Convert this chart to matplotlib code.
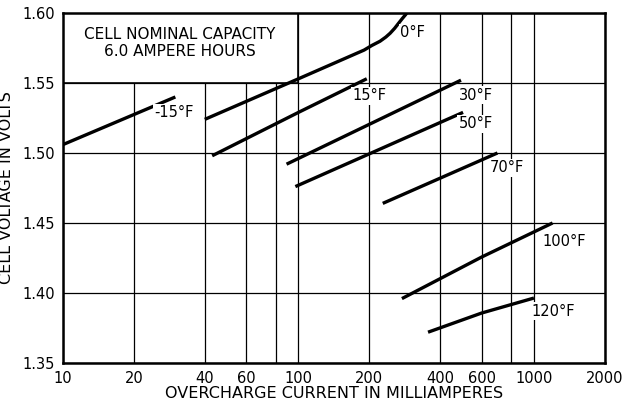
import matplotlib
matplotlib.use("Agg")
import matplotlib.pyplot as plt
from matplotlib.patches import Rectangle

# overcharge current (mA) and cell voltage (V) per temperature curve
curveNames = ["-15\u00b0F", "0\u00b0F", "15\u00b0F", "30\u00b0F", "50\u00b0F", "70\u00b0F", "100\u00b0F", "120\u00b0F"]
currents = [
    [10, 30],
    [40, 100, 190, 205, 222, 235, 245, 256, 266, 276, 285, 297],
    [43, 100, 195],
    [89, 490],
    [97, 500],
    [228, 700],
    [275, 600, 1200],
    [355, 600, 1000],
]
voltages = [
    [1.506, 1.540],
    [1.524, 1.553, 1.5735, 1.5768, 1.5798, 1.5828, 1.5855, 1.589, 1.5926, 1.596, 1.5988, 1.603],
    [1.498, 1.529, 1.553],
    [1.492, 1.552],
    [1.476, 1.529],
    [1.464, 1.500],
    [1.396, 1.4257, 1.450],
    [1.372, 1.3857, 1.3964],
]
labelX = [29.6, 306, 201, 566, 566, 765, 1347, 1205]
labelY = [1.5286, 1.5857, 1.5407, 1.5414, 1.5207, 1.4893, 1.4371, 1.3871]

xTicks = [10, 20, 40, 60, 80, 100, 200, 400, 600, 800, 1000, 2000]
xTickLabels = ["10", "20", "40", "60", "", "100", "200", "400", "600", "", "1000", "2000"]
yTicks = [1.35, 1.40, 1.45, 1.50, 1.55, 1.60]

fig = plt.figure(figsize=(6.32, 4.05), dpi=100)
ax = fig.add_axes([0.0997, 0.1037, 0.8573, 0.8643])
ax.set_xscale("log")
ax.set_xlim(10, 2000)
ax.set_ylim(1.35, 1.60)
ax.set_axisbelow(True)

ax.set_xticks(xTicks)
ax.set_xticklabels(xTickLabels)
ax.xaxis.set_minor_locator(matplotlib.ticker.NullLocator())
ax.set_yticks(yTicks)
ax.set_yticklabels(["%.2f" % v for v in yTicks])
ax.tick_params(length=0, labelsize=10.5, pad=6)
ax.grid(True, color="black", linewidth=0.9)

for side in ax.spines.values():
    side.set_linewidth(1.8)

# title box hides the grid in its corner
ax.add_patch(Rectangle((10, 1.55), 90, 0.05, facecolor="white", edgecolor="black",
                       linewidth=1.2, zorder=1))
ax.text(31.4, 1.5786, "CELL NOMINAL CAPACITY\n6.0 AMPERE HOURS", ha="center", va="center",
        fontsize=11, linespacing=1.1, zorder=3)

for i in range(len(curveNames)):
    ax.plot(currents[i], voltages[i], color="black", linewidth=2.4, zorder=2,
            solid_capstyle="butt", solid_joinstyle="round")
    ax.text(labelX[i], labelY[i], curveNames[i], ha="center", va="center", fontsize=10.5,
            zorder=3, bbox=dict(facecolor="white", edgecolor="none", pad=1))

ax.set_xlabel("OVERCHARGE CURRENT IN MILLIAMPERES", fontsize=11.5, labelpad=0)
ax.set_ylabel("CELL VOLTAGE IN VOLTS", fontsize=11.5, labelpad=6)

fig.savefig("out.png", dpi=100)
